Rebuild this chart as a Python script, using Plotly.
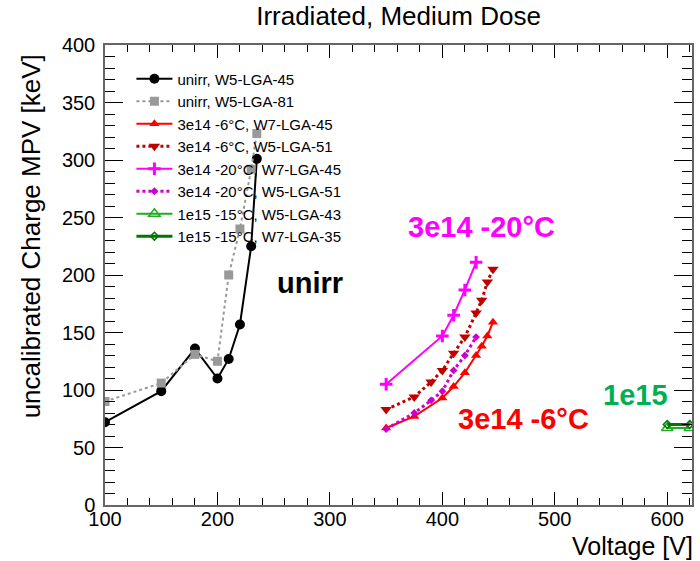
import plotly.graph_objects as go

# ---------------- data ----------------
unirr45_v = [100, 150, 180, 200, 210, 220, 230, 235]
unirr45_q = [72, 99, 136, 110, 127, 157, 225, 301]

unirr81_v = [100, 150, 180, 200, 210, 220, 230, 235]
unirr81_q = [90, 106, 131, 125, 200, 240, 292, 323]

m6_w7_45_v = [350, 375, 400, 410, 420, 430, 435, 440, 445]
m6_w7_45_q = [67, 77, 93, 103, 115, 130, 138, 147, 159]

m6_w5_51_v = [350, 375, 390, 400, 410, 420, 430, 435, 440, 445]
m6_w5_51_q = [83, 94, 107, 117, 132, 146, 167, 178, 194, 205]

m20_w7_45_v = [350, 400, 410, 420, 430]
m20_w7_45_q = [105, 147, 165, 187, 211]

m20_w5_51_v = [350, 375, 390, 400, 410, 420, 430]
m20_w5_51_q = [66, 80, 91, 99, 117, 130, 146]

e15_w5_43_v = [600, 620]
e15_w5_43_q = [67, 67]

e15_w7_35_v = [600, 620]
e15_w7_35_q = [70, 70]

series_names = [
    "unirr, W5-LGA-45", "unirr, W5-LGA-81",
    "3e14 -6°C, W7-LGA-45", "3e14 -6°C, W5-LGA-51",
    "3e14 -20°C, W7-LGA-45", "3e14 -20°C, W5-LGA-51",
    "1e15 -15°C, W5-LGA-43", "1e15 -15°C, W7-LGA-35",
]

x_ticks = [100, 200, 300, 400, 500, 600]
y_ticks = [0, 50, 100, 150, 200, 250, 300, 350, 400]

FONT = "Liberation Sans, Arial, Helvetica, sans-serif"

styles = [
    dict(color="black", dash="solid", width=2, symbol="circle", size=10),
    dict(color="#999999", dash="dot", width=2, symbol="square", size=9),
    dict(color="#ff0000", dash="solid", width=2, symbol="triangle-up", size=9),
    dict(color="#c00000", dash="dot", width=3, symbol="triangle-down", size=10),
    dict(color="#ff00ff", dash="solid", width=2, symbol="cross-thin", size=9),
    dict(color="#cc00cc", dash="dot", width=3, symbol="diamond", size=6),
    dict(color="#22aa22", dash="solid", width=2, symbol="triangle-up-open", size=10),
    dict(color="#007700", dash="solid", width=3, symbol="diamond-open", size=6),
]

data = [
    (unirr45_v, unirr45_q), (unirr81_v, unirr81_q),
    (m6_w7_45_v, m6_w7_45_q), (m6_w5_51_v, m6_w5_51_q),
    (m20_w7_45_v, m20_w7_45_q), (m20_w5_51_v, m20_w5_51_q),
    (e15_w5_43_v, e15_w5_43_q), (e15_w7_35_v, e15_w7_35_q),
]

fig = go.Figure()
for (xs, ys), name, st in zip(data, series_names, styles):
    marker = dict(symbol=st["symbol"], size=st["size"], color=st["color"])
    if st["symbol"] == "cross-thin":
        marker["line"] = dict(color=st["color"], width=3)
    elif st["symbol"].endswith("open"):
        marker["line"] = dict(color=st["color"], width=1.5)
    else:
        marker["line"] = dict(width=0)
    fig.add_trace(go.Scatter(
        x=xs, y=ys, name=name, mode="lines+markers",
        line=dict(color=st["color"], dash=st["dash"], width=st["width"]),
        marker=marker,
    ))

axis_common = dict(
    showgrid=False, zeroline=False, showline=True,
    linecolor="#666666", linewidth=1.5, mirror="allticks",
    ticks="inside", tickcolor="black", tickwidth=1,
    tickfont=dict(family=FONT, size=20, color="black"),
)

fig.update_xaxes(
    range=[100, 622], tickvals=x_ticks, ticklen=13,
    minor=dict(dtick=20, ticklen=7, ticks="inside", tickcolor="black"),
    ticklabelstandoff=-5,
    **axis_common,
)
fig.update_yaxes(
    range=[0, 400], tickvals=y_ticks, ticklen=18,
    minor=dict(dtick=10, ticklen=10, ticks="inside", tickcolor="black"),
    ticklabelstandoff=4,
    **axis_common,
)

labels = [
    dict(text="3e14 -20°C", x=435, y=242, color="#ff00ff"),
    dict(text="unirr", x=282, y=193, color="black"),
    dict(text="3e14 -6°C", x=472, y=75, color="#ff0000"),
    dict(text="1e15", x=572, y=96, color="#00b050"),
]
annotations = []
for lb in labels:
    annotations.append(dict(
        text="<b>%s</b>" % lb["text"], x=lb["x"], y=lb["y"], xref="x", yref="y",
        showarrow=False, xanchor="center", yanchor="middle",
        font=dict(family=FONT, size=29, color=lb["color"]),
    ))
annotations.append(dict(
    text="uncalibrated Charge MPV [keV]", xref="paper", yref="paper",
    x=-0.127, y=0.985, xanchor="center", yanchor="top", textangle=-90,
    showarrow=False, font=dict(family=FONT, size=26, color="black"),
))
annotations.append(dict(
    text="Voltage [V]", xref="paper", yref="paper",
    x=1.005, y=-0.0891, xanchor="right", yanchor="middle",
    showarrow=False, font=dict(family=FONT, size=25, color="black"),
))

fig.update_layout(
    width=700, height=561,
    margin=dict(l=105, r=6, t=45, b=56),
    paper_bgcolor="white", plot_bgcolor="white",
    title=dict(text="Irradiated, Medium Dose", x=0.5, xref="paper",
               y=0.971, yref="container", xanchor="center", yanchor="middle",
               font=dict(family=FONT, size=26, color="black")),
    legend=dict(x=0.045, y=0.962, xanchor="left", yanchor="top",
                bgcolor="rgba(0,0,0,0)", borderwidth=0,
                font=dict(family=FONT, size=15, color="black"),
                itemwidth=36, tracegroupgap=0),
    annotations=annotations,
    showlegend=True,
)

fig.write_html(
    "out.html",
    config={"displayModeBar": False},
    post_script="document.body.style.margin='0px';document.body.style.overflow='hidden';",
)
